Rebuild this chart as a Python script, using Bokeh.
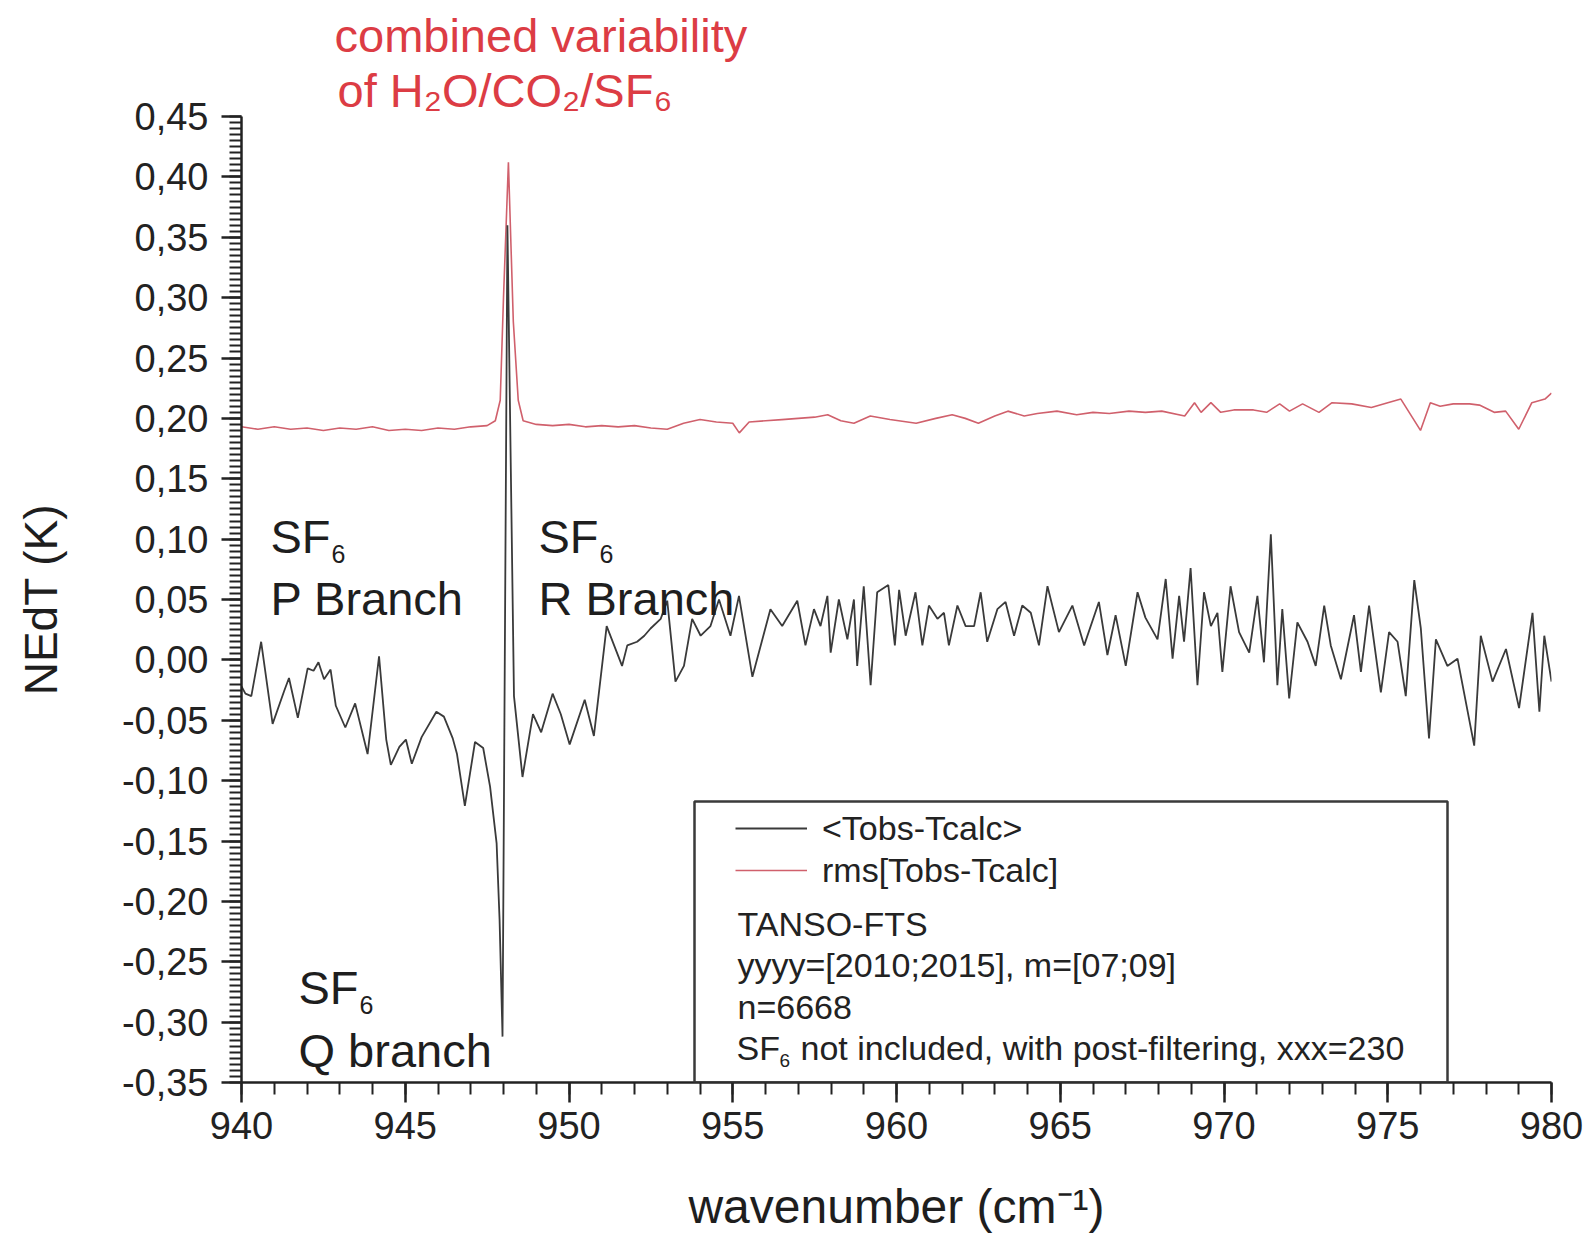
from bokeh.plotting import figure
from bokeh.models import (Range1d, FixedTicker, CustomJSTickFormatter, Label,
                          Legend, LegendItem, BoxAnnotation, Title)
from bokeh.embed import file_html
from bokeh.resources import INLINE

# ---------------- data ----------------
WN_MEAN = [940.00, 940.12, 940.30, 940.60, 940.95, 941.30, 941.45, 941.72, 942.02, 942.20,
           942.35, 942.52, 942.72, 942.88, 943.17, 943.47, 943.85, 944.20, 944.42, 944.56,
           944.82, 945.02, 945.20, 945.50, 945.95, 946.18, 946.45, 946.58, 946.82, 947.13,
           947.38, 947.59, 947.79, 947.88, 947.97, 948.12, 948.32, 948.58, 948.90, 949.15,
           949.50, 949.75, 950.02, 950.48, 950.76, 951.15, 951.62, 951.78, 952.08, 952.30,
           952.49, 952.80, 953.00, 953.25, 953.51, 953.76, 954.02, 954.32, 954.58, 954.93,
           955.19, 955.60, 956.15, 956.51, 956.97, 957.22, 957.48, 957.68, 957.89, 957.99,
           958.24, 958.50, 958.70, 958.80, 959.00, 959.21, 959.41, 959.75, 959.95, 960.08,
           960.28, 960.58, 960.79, 960.99, 961.25, 961.45, 961.60, 961.86, 962.11, 962.37,
           962.57, 962.77, 963.08, 963.33, 963.59, 963.84, 964.10, 964.35, 964.61, 964.96,
           965.37, 965.73, 966.18, 966.44, 966.69, 967.00, 967.36, 967.60, 967.97, 968.22,
           968.43, 968.63, 968.78, 968.98, 969.19, 969.39, 969.60, 969.80, 969.95, 970.20,
           970.46, 970.77, 971.02, 971.22, 971.43, 971.63, 971.78, 971.99, 972.24, 972.55,
           972.80, 973.06, 973.26, 973.57, 973.97, 974.18, 974.43, 974.79, 975.04, 975.30,
           975.55, 975.81, 976.01, 976.26, 976.47, 976.82, 977.13, 977.64, 977.84, 978.20,
           978.61, 979.01, 979.42, 979.63, 979.78, 980.00]
MEAN = [-0.022, -0.028, -0.030, 0.015, -0.053, -0.026, -0.015, -0.048, -0.007, -0.009,
        -0.002, -0.016, -0.008, -0.038, -0.056, -0.036, -0.078, 0.003, -0.066, -0.087,
        -0.072, -0.066, -0.086, -0.064, -0.043, -0.047, -0.065, -0.078, -0.121, -0.068,
        -0.073, -0.105, -0.152, -0.215, -0.312, 0.360, -0.030, -0.097, -0.045, -0.060,
        -0.028, -0.045, -0.070, -0.033, -0.063, 0.028, -0.005, 0.012, 0.015, 0.020,
        0.026, 0.034, 0.049, -0.018, -0.005, 0.034, 0.020, 0.028, 0.050, 0.020,
        0.053, -0.014, 0.042, 0.028, 0.049, 0.012, 0.042, 0.028, 0.053, 0.006,
        0.050, 0.017, 0.050, -0.005, 0.061, -0.021, 0.056, 0.062, 0.012, 0.058,
        0.020, 0.056, 0.012, 0.045, 0.034, 0.039, 0.012, 0.045, 0.028, 0.028,
        0.056, 0.015, 0.042, 0.048, 0.020, 0.045, 0.039, 0.012, 0.061, 0.023,
        0.045, 0.012, 0.048, 0.004, 0.037, -0.005, 0.056, 0.035, 0.017, 0.067,
        0.001, 0.053, 0.015, 0.076, -0.021, 0.056, 0.028, 0.039, -0.010, 0.061,
        0.023, 0.006, 0.053, -0.002, 0.104, -0.021, 0.042, -0.032, 0.031, 0.015,
        -0.005, 0.045, 0.012, -0.016, 0.037, -0.010, 0.045, -0.027, 0.023, 0.015,
        -0.030, 0.066, 0.026, -0.065, 0.017, -0.005, 0.001, -0.071, 0.020, -0.018,
        0.009, -0.040, 0.039, -0.043, 0.020, -0.018]

WN_RMS = [940.0, 940.5, 941.0, 941.5, 942.0, 942.5, 943.0, 943.5, 944.0, 944.5,
          945.0, 945.5, 946.0, 946.5, 947.0, 947.5, 947.75, 947.9, 948.0, 948.15,
          948.3, 948.45, 948.6, 949.0, 949.5, 950.0, 950.5, 951.0, 951.5, 952.0,
          952.5, 953.0, 953.5, 954.0, 954.5, 955.0, 955.2, 955.5, 956.0, 956.5,
          957.0, 957.5, 957.9, 958.3, 958.7, 959.2, 959.8, 960.6, 961.2, 961.7,
          962.1, 962.5, 963.0, 963.4, 963.9, 964.3, 964.9, 965.5, 966.0, 966.5,
          967.1, 967.6, 968.1, 968.8, 969.1, 969.3, 969.6, 969.9, 970.3, 970.9,
          971.3, 971.7, 972.0, 972.4, 972.9, 973.3, 973.9, 974.5, 975.0, 975.4,
          976.0, 976.3, 976.6, 977.0, 977.5, 977.8, 978.25, 978.6, 979.0, 979.4,
          979.8, 980.0]
RMS = [0.193, 0.191, 0.193, 0.191, 0.192, 0.190, 0.192, 0.191, 0.193, 0.190,
       0.191, 0.190, 0.192, 0.191, 0.193, 0.194, 0.198, 0.215, 0.300, 0.412,
       0.280, 0.215, 0.198, 0.195, 0.194, 0.195, 0.193, 0.194, 0.193, 0.194,
       0.192, 0.191, 0.196, 0.199, 0.197, 0.196, 0.188, 0.197, 0.198, 0.199,
       0.200, 0.201, 0.203, 0.198, 0.196, 0.202, 0.199, 0.196, 0.200, 0.203,
       0.200, 0.196, 0.202, 0.206, 0.202, 0.204, 0.206, 0.203, 0.205, 0.204,
       0.206, 0.205, 0.206, 0.202, 0.213, 0.205, 0.213, 0.205, 0.207, 0.207,
       0.205, 0.212, 0.206, 0.212, 0.205, 0.213, 0.212, 0.209, 0.213, 0.216,
       0.190, 0.213, 0.210, 0.212, 0.212, 0.211, 0.205, 0.206, 0.191, 0.213,
       0.216, 0.221]

X_TICKS = [940, 945, 950, 955, 960, 965, 970, 975, 980]
X_MINOR = list(range(940, 981))
Y_TICKS = [-0.35, -0.30, -0.25, -0.20, -0.15, -0.10, -0.05, 0.00,
           0.05, 0.10, 0.15, 0.20, 0.25, 0.30, 0.35, 0.40, 0.45]
Y_MINOR = [round(-0.35 + 0.005 * i, 3) for i in range(161)]

LEGEND_LABELS = ["<Tobs-Tcalc>", "rms[Tobs-Tcalc]"]
INFO_LINES = ["TANSO-FTS", "yyyy=[2010;2015], m=[07;09]", "n=6668"]
TITLE_LINES = ["combined variability", "of H\u2082O/CO\u2082/SF\u2086"]
X_LABEL = "wavenumber (cm\u207b\u00b9)"
Y_LABEL = "NEdT (K)"

# ---------------- layout ----------------
W, H = 1589, 1243
FL, FR, FT, FB = 241, 1551, 116, 1082   # frame edges in canvas pixels
XMIN, XMAX, YMIN, YMAX = 940, 980, -0.35, 0.45
FONT = "Liberation Sans"
INK = "#1e1e1e"
RED_TXT = "#dc3c44"


def dx(px):
    return XMIN + (px - FL) * (XMAX - XMIN) / (FR - FL)


def dy(py):
    return YMAX - (py - FT) * (YMAX - YMIN) / (FB - FT)


p = figure(width=W, height=H, x_range=Range1d(XMIN, XMAX), y_range=Range1d(YMIN, YMAX),
           output_backend="svg", toolbar_location=None,
           min_border_left=FL, min_border_right=W - FR,
           min_border_top=FT, min_border_bottom=H - FB)
p.outline_line_color = None
p.grid.visible = False
p.background_fill_color = "white"
p.border_fill_color = "white"

for ax in (p.xaxis[0], p.yaxis[0]):
    ax.axis_line_width = 2.5
    ax.axis_line_color = "#222222"
    ax.major_tick_line_width = 2.5
    ax.major_tick_line_color = "#222222"
    ax.minor_tick_line_width = 2
    ax.minor_tick_line_color = "#222222"
    ax.major_tick_out = 20
    ax.major_tick_in = 0
    ax.minor_tick_out = 12
    ax.minor_tick_in = 0
    ax.major_label_text_font = FONT
    ax.major_label_text_font_size = "38px"
    ax.major_label_text_color = "#222222"
    ax.axis_label_text_font = FONT
    ax.axis_label_text_font_style = "normal"
    ax.axis_label_text_color = INK

p.xaxis.ticker = FixedTicker(ticks=X_TICKS, minor_ticks=X_MINOR)
p.yaxis.ticker = FixedTicker(ticks=Y_TICKS, minor_ticks=Y_MINOR)
p.yaxis.formatter = CustomJSTickFormatter(code="return tick.toFixed(2).replace('.', ',');")
p.xaxis.major_label_standoff = 9
p.yaxis.major_label_standoff = 13

p.xaxis.axis_label = X_LABEL
p.xaxis.axis_label_text_font_size = "48px"
p.xaxis.axis_label_standoff = 38
p.yaxis.axis_label = Y_LABEL
p.yaxis.axis_label_text_font_size = "46px"
p.yaxis.axis_label_standoff = 52

r_rms = p.line(WN_RMS, RMS, line_color="#d0606c", line_width=1.6)
r_mean = p.line(WN_MEAN, MEAN, line_color="#3a3a3a", line_width=1.8)

# red two-line note above the frame
for txt, off in [(TITLE_LINES[1], 96), (TITLE_LINES[0], 93)]:
    p.add_layout(Title(text=txt, align="left", offset=off, standoff=0,
                       text_font=FONT, text_font_size="47px", text_font_style="normal",
                       text_color=RED_TXT), "above")

# legend frame
p.add_layout(BoxAnnotation(left=dx(694), right=dx(1447), top=dy(801), bottom=YMIN,
                           fill_alpha=0, line_color="#3a3a3a", line_alpha=1.0, line_width=2.5))

legend = Legend(items=[LegendItem(label=LEGEND_LABELS[0], renderers=[r_mean]),
                       LegendItem(label=LEGEND_LABELS[1], renderers=[r_rms])],
                location=(735 - FL, FB - 891),
                border_line_color=None, background_fill_alpha=0,
                padding=0, margin=0, spacing=0,
                glyph_width=72, glyph_height=42, label_height=42, label_standoff=15,
                label_text_font=FONT, label_text_font_size="34px", label_text_color="#222222")
p.add_layout(legend)


def lab(text, px, py, size, color=INK):
    p.add_layout(Label(x=dx(px), y=dy(py), text=text, text_font=FONT,
                       text_font_size=f"{size}px", text_color=color,
                       text_align="left", text_baseline="alphabetic"))


# legend info lines
for txt, base in zip(INFO_LINES, [923, 964, 1006]):
    lab(txt, 737, base, 34, "#222222")
lab("SF", 736, 1047, 34, "#222222")
lab("6", 779, 1060, 19, "#222222")
lab("not included, with post-filtering, xxx=230", 800, 1047, 34, "#222222")

# SF6 branch annotations
for x0, top_base, bot_base, name in [(270, 536, 598, "P Branch"),
                                     (538, 536, 598, "R Branch"),
                                     (298, 987, 1050, "Q branch")]:
    lab("SF", x0, top_base, 47)
    lab("6", x0 + 61, top_base + 17, 25)
    lab(name, x0, bot_base, 47)

open("out.html", "w").write(file_html(p, INLINE))
